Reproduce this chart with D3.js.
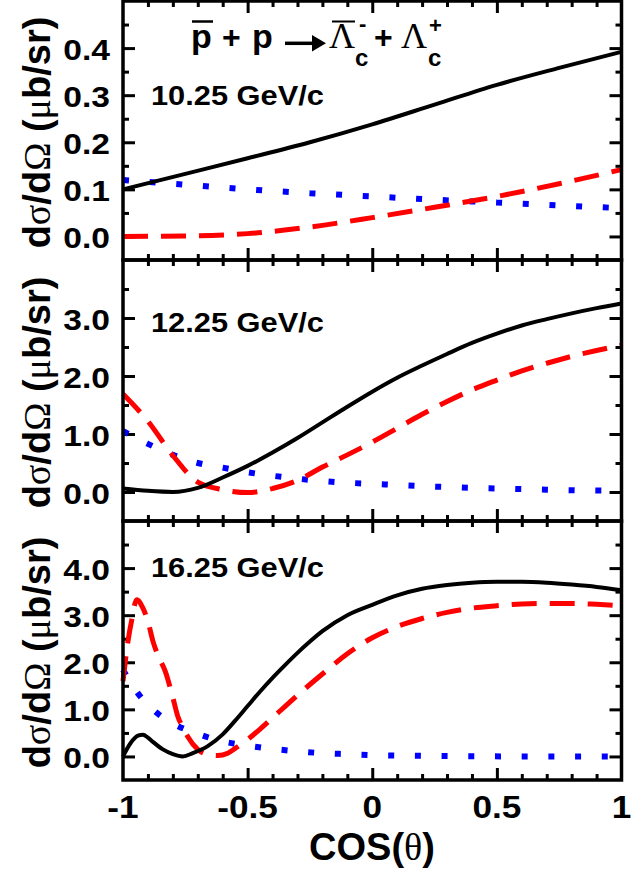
<!DOCTYPE html>
<html><head><meta charset="utf-8">
<script src="https://cdn.jsdelivr.net/npm/d3@7/dist/d3.min.js"></script>
<style>body{margin:0;background:#fff}svg{display:block}</style>
</head><body>
<script>
// ---------- data ----------
const panelLabels = ["10.25 GeV/c", "12.25 GeV/c", "16.25 GeV/c"];
const yDomains = [[-0.05, 0.5], [-0.5, 4.0], [-0.5, 5.0]];
const yMajor = [[0.0, 0.1, 0.2, 0.3, 0.4], [0, 1, 2, 3], [0, 1, 2, 3, 4]];
const yMinor = [[0.05, 0.15, 0.25, 0.35, 0.45], [0.5, 1.5, 2.5, 3.5], [0.5, 1.5, 2.5, 3.5, 4.5]];
const yTickLabels = [["0.0", "0.1", "0.2", "0.3", "0.4"], ["0.0", "1.0", "2.0", "3.0"], ["0.0", "1.0", "2.0", "3.0", "4.0"]];
const xMajor = [-1, -0.5, 0, 0.5, 1];
const xTickLabels = ["-1", "-0.5", "0", "0.5", "1"];

// panel 1 (10.25 GeV/c)
const p1Cos = [-1, -0.75, -0.5, -0.25, 0, 0.25, 0.5, 0.75, 1];
const p1Solid = [0.100, 0.133, 0.166, 0.200, 0.238, 0.280, 0.322, 0.358, 0.392];
const p1Dash = [0.000, 0.001, 0.006, 0.020, 0.040, 0.062, 0.085, 0.112, 0.142];
const p1Dot = [0.120, 0.110, 0.100, 0.092, 0.085, 0.078, 0.072, 0.066, 0.060];

// panel 2 (12.25 GeV/c)
const p2Cos = [-1, -0.9, -0.8, -0.7, -0.6, -0.5, -0.4, -0.3, -0.2, -0.1, 0, 0.1, 0.2, 0.3, 0.4, 0.5, 0.6, 0.7, 0.8, 0.9, 1];
const p2Solid = [0.06, 0.02, 0.00, 0.07, 0.25, 0.45, 0.68, 0.93, 1.20, 1.47, 1.73, 1.97, 2.18, 2.38, 2.57, 2.73, 2.87, 2.98, 3.08, 3.17, 3.25];
const p2Dash = [1.69, 1.22, 0.63, 0.17, 0.04, -0.01, 0.06, 0.20, 0.43, 0.64, 0.86, 1.10, 1.34, 1.56, 1.76, 1.93, 2.09, 2.22, 2.34, 2.44, 2.53];
const p2Dot = [1.05, 0.83, 0.64, 0.50, 0.42, 0.34, 0.28, 0.23, 0.19, 0.16, 0.14, 0.12, 0.10, 0.085, 0.07, 0.06, 0.05, 0.04, 0.03, 0.025, 0.02];

// panel 3 (16.25 GeV/c)
const p3SolidCos = [-1, -0.97, -0.94, -0.92, -0.9, -0.88, -0.84, -0.8, -0.76, -0.72, -0.66, -0.6, -0.55, -0.5, -0.45, -0.4, -0.35, -0.3, -0.25, -0.2, -0.1, 0, 0.1, 0.2, 0.3, 0.4, 0.5, 0.6, 0.7, 0.8, 0.9, 1];
const p3Solid = [0.00, 0.28, 0.44, 0.46, 0.40, 0.31, 0.15, 0.05, 0.00, 0.07, 0.22, 0.47, 0.76, 1.07, 1.38, 1.67, 1.94, 2.20, 2.44, 2.66, 3.00, 3.22, 3.42, 3.56, 3.64, 3.69, 3.71, 3.71, 3.69, 3.65, 3.60, 3.53];
const p3DashCos = [-1, -0.98, -0.965, -0.945, -0.92, -0.9, -0.88, -0.86, -0.83, -0.8, -0.78, -0.76, -0.74, -0.7, -0.66, -0.62, -0.58, -0.55, -0.5, -0.45, -0.4, -0.3, -0.2, -0.1, 0, 0.1, 0.2, 0.3, 0.4, 0.5, 0.6, 0.7, 0.8, 0.9, 1];
const p3Dash = [1.60, 2.45, 2.90, 3.33, 3.15, 2.87, 2.45, 2.15, 1.80, 1.25, 0.85, 0.62, 0.42, 0.15, 0.04, 0.02, 0.07, 0.17, 0.36, 0.58, 0.82, 1.30, 1.75, 2.18, 2.52, 2.76, 2.93, 3.06, 3.15, 3.20, 3.24, 3.25, 3.25, 3.23, 3.20];
const p3DotCos = [-1, -0.94, -0.87, -0.8, -0.7, -0.6, -0.5, -0.4, -0.3, -0.2, -0.1, 0, 0.2, 0.4, 0.6, 0.8, 1];
const p3Dot = [1.84, 1.34, 0.95, 0.70, 0.48, 0.32, 0.23, 0.16, 0.11, 0.07, 0.05, 0.03, 0.015, 0.005, 0.0, 0.0, 0.0];

const panels = [
  {solid: [p1Cos, p1Solid], dash: [p1Cos, p1Dash], dot: [p1Cos, p1Dot]},
  {solid: [p2Cos, p2Solid], dash: [p2Cos, p2Dash], dot: [p2Cos, p2Dot]},
  {solid: [p3SolidCos, p3Solid], dash: [p3DashCos, p3Dash], dot: [p3DotCos, p3Dot]}
];

// ---------- layout ----------
const W = 631, H = 873;
const left = 123, right = 621.5;
const tops = [1, 260, 521], bottoms = [260, 521, 780];
const FONT = "'Liberation Sans', Arial, sans-serif";
const SERIF = "'Liberation Serif', 'Times New Roman', serif";

const svg = d3.select("body").append("svg").attr("width", W).attr("height", H);
const x = d3.scaleLinear().domain([-1, 1]).range([left, right]);
const xMinor = d3.range(-0.9, 0.95, 0.1).map(v => Math.round(v * 10) / 10).filter(v => Math.abs(v * 2 - Math.round(v * 2)) > 1e-6);

const defs = svg.append("defs");

panels.forEach((p, i) => {
  const y = d3.scaleLinear().domain(yDomains[i]).range([bottoms[i], tops[i]]);
  const g = svg.append("g");

  defs.append("clipPath").attr("id", "clip" + i).append("rect")
    .attr("x", left - 3).attr("y", tops[i]).attr("width", right - left + 3).attr("height", bottoms[i] - tops[i]);

  const addAxis = (axis, tx, ty) => {
    const a = g.append("g").attr("transform", `translate(${tx},${ty})`).call(axis);
    a.select(".domain").remove();
    a.selectAll("line").attr("stroke", "#000").attr("stroke-width", 3);
    a.selectAll("text").remove();
  };
  const xmajInner = xMajor.filter(v => v > -1 && v < 1);
  addAxis(d3.axisTop(x).tickValues(xmajInner).tickSize(-12).tickFormat(""), 0, tops[i]);
  addAxis(d3.axisTop(x).tickValues(xMinor).tickSize(-6).tickFormat(""), 0, tops[i]);
  addAxis(d3.axisBottom(x).tickValues(xmajInner).tickSize(-12).tickFormat(""), 0, bottoms[i]);
  addAxis(d3.axisBottom(x).tickValues(xMinor).tickSize(-6).tickFormat(""), 0, bottoms[i]);
  addAxis(d3.axisLeft(y).tickValues(yMajor[i]).tickSize(-12).tickFormat(""), left, 0);
  addAxis(d3.axisLeft(y).tickValues(yMinor[i]).tickSize(-6).tickFormat(""), left, 0);
  addAxis(d3.axisRight(y).tickValues(yMajor[i]).tickSize(-12).tickFormat(""), right, 0);
  addAxis(d3.axisRight(y).tickValues(yMinor[i]).tickSize(-6).tickFormat(""), right, 0);

  yMajor[i].forEach((v, k) => {
    g.append("text").attr("transform", `translate(110,${y(v) + 12}) scale(1.12,1)`)
      .attr("text-anchor", "end").attr("font-family", FONT).attr("font-weight", "bold")
      .attr("font-size", 30).text(yTickLabels[i][k]);
  });

  const line = d3.line().x(d => x(d[0])).y(d => y(d[1])).curve(d3.curveMonotoneX);
  const cg = g.append("g").attr("clip-path", `url(#clip${i})`);
  const zip = arr => arr[0].map((c, k) => [c, arr[1][k]]);
  cg.append("path").datum(zip(p.dot)).attr("d", line).attr("fill", "none")
    .attr("stroke", "#0000ff").attr("stroke-width", 6).attr("stroke-dasharray", "6,20.7");
  cg.append("path").datum(zip(p.dash)).attr("d", line).attr("fill", "none")
    .attr("stroke", "#ff0000").attr("stroke-width", 5).attr("stroke-dasharray", "25,13");
  cg.append("path").datum(zip(p.solid)).attr("d", line).attr("fill", "none")
    .attr("stroke", "#000").attr("stroke-width", 4);

  g.append("rect").attr("x", left).attr("y", tops[i]).attr("width", right - left)
    .attr("height", bottoms[i] - tops[i]).attr("fill", "none").attr("stroke", "#000").attr("stroke-width", 3.5);

  const labY = [105, 332, 577][i];
  g.append("text").attr("transform", `translate(151,${labY}) scale(1.1,1)`)
    .attr("font-family", FONT).attr("font-weight", "bold").attr("font-size", 28).text(panelLabels[i]);

  const cy = (tops[i] + bottoms[i]) / 2 + 2;
  const t = g.append("text").attr("transform", `translate(50,${cy}) rotate(-90)`)
    .attr("text-anchor", "middle").attr("font-family", FONT).attr("font-weight", "bold").attr("font-size", 38);
  t.append("tspan").text("d");
  t.append("tspan").attr("font-family", SERIF).attr("font-weight", "normal").text("σ");
  t.append("tspan").text("/d");
  t.append("tspan").attr("font-family", SERIF).attr("font-weight", "normal").text("Ω");
  t.append("tspan").text(" (");
  t.append("tspan").attr("font-family", SERIF).attr("font-weight", "normal").text("μ");
  t.append("tspan").text("b/sr)");
});

xMajor.forEach((v, k) => {
  svg.append("text").attr("transform", `translate(${x(v)},818) scale(1.1,1)`)
    .attr("text-anchor", "middle").attr("font-family", FONT).attr("font-weight", "bold")
    .attr("font-size", 32).text(xTickLabels[k]);
});
const xt = svg.append("text").attr("x", 372).attr("y", 860).attr("text-anchor", "middle")
  .attr("font-family", FONT).attr("font-weight", "bold").attr("font-size", 38);
xt.append("tspan").text("COS(");
xt.append("tspan").attr("font-family", SERIF).attr("font-weight", "normal").text("θ");
xt.append("tspan").text(")");

// reaction title
const tg = svg.append("g");
const txt = (s, xx, yy, size, fam, wt) => tg.append("text").attr("x", xx).attr("y", yy)
  .attr("font-family", fam).attr("font-weight", wt).attr("font-size", size).text(s);
txt("p", 191, 48, 34, FONT, "bold");
tg.append("line").attr("x1", 192).attr("x2", 213).attr("y1", 21.5).attr("y2", 21.5).attr("stroke", "#000").attr("stroke-width", 2.5);
txt("+", 222, 48, 32, FONT, "bold");
txt("p", 252, 48, 34, FONT, "bold");
tg.append("line").attr("x1", 285).attr("x2", 314).attr("y1", 43.3).attr("y2", 43.3).attr("stroke", "#000").attr("stroke-width", 3.5);
tg.append("path").attr("d", "M312,35 L326,43.3 L312,51.6 Z").attr("fill", "#000");
txt("Λ", 329, 48, 36, SERIF, "normal");
tg.append("line").attr("x1", 332).attr("x2", 355).attr("y1", 21.5).attr("y2", 21.5).attr("stroke", "#000").attr("stroke-width", 2);
txt("-", 359, 31, 22, FONT, "bold");
txt("c", 355, 66, 24, FONT, "bold");
txt("+", 374, 48, 32, FONT, "bold");
txt("Λ", 401, 48, 36, SERIF, "normal");
txt("+", 429, 33, 22, FONT, "bold");
txt("c", 428, 66, 24, FONT, "bold");
</script>
</body></html>
